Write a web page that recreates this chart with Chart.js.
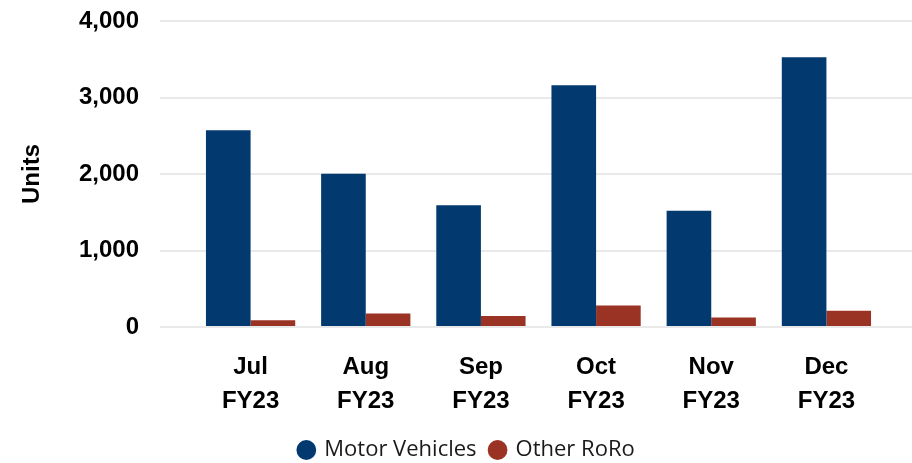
<!DOCTYPE html>
<html>
<head>
<meta charset="utf-8">
<script src="https://cdn.jsdelivr.net/npm/chart.js@4"></script>
<style>
  html, body { margin: 0; padding: 0; background: #fff; }
  #wrap { width: 912px; height: 463px; }
</style>
</head>
<body>
<div id="wrap"><canvas id="roroChart"></canvas></div>
<script>
// Monthly units, FY23
const months = ['Jul', 'Aug', 'Sep', 'Oct', 'Nov', 'Dec'];
const fiscalYear = 'FY23';
const motorVehicles = [2572, 2004, 1590, 3160, 1520, 3527];
const otherRoRo = [88, 176, 145, 280, 123, 211];
const yTicks = [0, 1000, 2000, 3000, 4000];

const gridColor = '#e9e9e9';
const labelFont = { family: 'Liberation Sans, Arial, sans-serif', weight: 'bold', size: 24 };

// keep the tick labels from pushing the plot area around
function fixWidth(width) {
  return (scale) => {
    scale.width = width;
    scale.paddingTop = 0;
    scale.paddingBottom = 0;
  };
}

const ctx = document.getElementById('roroChart').getContext('2d');

new Chart(ctx, {
  type: 'bar',
  data: {
    labels: months.map((m) => [m, fiscalYear]),
    datasets: [
      {
        label: 'Motor Vehicles',
        data: motorVehicles,
        backgroundColor: '#023a70',
        borderWidth: 0,
      },
      {
        label: 'Other RoRo',
        data: otherRoRo,
        backgroundColor: '#9a3324',
        borderWidth: 0,
      },
    ],
  },
  options: {
    responsive: true,
    maintainAspectRatio: false,
    animation: false,
    layout: { padding: { top: 21, left: 22, right: 0, bottom: -8 } },
    datasets: {
      bar: { categoryPercentage: 0.775, barPercentage: 1.0 },
    },
    plugins: {
      tooltip: { enabled: false },
      legend: {
        position: 'bottom',
        labels: {
          usePointStyle: true,
          pointStyle: 'circle',
          boxHeight: 14,
          boxWidth: 14,
          padding: 14,
          color: '#1a1a1a',
          font: { family: 'Open Sans, Noto Sans, sans-serif', size: 22 },
        },
      },
    },
    scales: {
      x: {
        grid: { display: false },
        border: { display: false },
        afterFit: (scale) => { scale.height = 98; },
        ticks: {
          color: '#000',
          padding: 16,
          maxRotation: 0,
          font: Object.assign({}, labelFont, { lineHeight: 1.4 }),
        },
      },
      y: {
        min: yTicks[0],
        max: yTicks[yTicks.length - 1],
        afterBuildTicks: (scale) => {
          scale.ticks = yTicks.map((v) => ({ value: v }));
        },
        afterFit: fixWidth(171),
        border: { display: false },
        grid: { color: gridColor, lineWidth: 2, drawTicks: true, tickLength: 33 },
        ticks: { color: '#000', padding: 21, font: labelFont },
        title: {
          display: true,
          text: 'Units',
          color: '#000',
          padding: { top: 0, bottom: 0 },
          font: { family: 'Liberation Sans, Arial, sans-serif', weight: 'bold', size: 24, lineHeight: 0.9 },
        },
      },
      yRight: {
        position: 'right',
        min: yTicks[0],
        max: yTicks[yTicks.length - 1],
        afterBuildTicks: (scale) => {
          scale.ticks = yTicks.map((v) => ({ value: v }));
        },
        afterFit: fixWidth(28),
        border: { display: false },
        grid: { color: gridColor, lineWidth: 2, drawOnChartArea: false, drawTicks: true, tickLength: 28 },
        ticks: { display: false },
      },
    },
  },
});
</script>
</body>
</html>
